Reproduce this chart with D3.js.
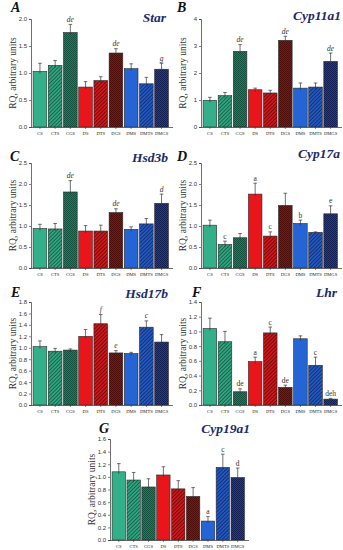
<!DOCTYPE html>
<html>
<head>
<meta charset="utf-8">
<script src="https://cdn.jsdelivr.net/npm/d3@7"></script>
<style>
  body { margin: 0; background: #fff; }
  svg { display: block; }
</style>
</head>
<body>
<div id="chart"></div>
<script>
const GROUPS = ['CS', 'CTS', 'CGS', 'DS', 'DTS', 'DGS', 'DMS', 'DMTS', 'DMGS'];

// A - Star
const STAR_MEAN = [1.03, 1.14, 1.75, 0.74, 0.86, 1.37, 1.08, 0.80, 1.07];
const STAR_ERR  = [0.15, 0.09, 0.15, 0.10, 0.07, 0.08, 0.09, 0.12, 0.11];
const STAR_SIG  = ['', '', 'de', '', '', 'de', '', '', 'g'];
const STAR_TICKS = [0, 0.5, 1.0, 1.5, 2.0];

// B - Cyp11a1
const CYP11_MEAN = [0.99, 1.16, 2.80, 1.38, 1.26, 3.21, 1.44, 1.48, 2.43];
const CYP11_ERR  = [0.11, 0.12, 0.25, 0.06, 0.10, 0.15, 0.19, 0.15, 0.31];
const CYP11_SIG  = ['', '', 'de', '', '', 'de', '', '', 'de'];
const CYP11_TICKS = [0, 1, 2, 3, 4];

// C - Hsd3b
const HSD3_MEAN = [0.94, 0.93, 1.81, 0.88, 0.88, 1.32, 0.92, 1.05, 1.54];
const HSD3_ERR  = [0.10, 0.13, 0.27, 0.13, 0.14, 0.09, 0.06, 0.13, 0.22];
const HSD3_SIG  = ['', '', 'de', '', '', 'de', '', '', 'd'];
const HSD3_TICKS = [0, 0.5, 1.0, 1.5, 2.0, 2.5];

// D - Cyp17a
const CYP17_MEAN = [1.02, 0.56, 0.72, 1.76, 0.76, 1.49, 1.06, 0.85, 1.29];
const CYP17_ERR  = [0.12, 0.08, 0.10, 0.26, 0.10, 0.29, 0.08, 0.01, 0.19];
const CYP17_SIG  = ['', 'c', '', 'a', 'c', '', 'b', '', 'e'];
const CYP17_TICKS = [0, 0.5, 1.0, 1.5, 2.0, 2.5];

// E - Hsd17b
const HSD17_MEAN = [1.02, 0.94, 0.96, 1.20, 1.42, 0.91, 0.90, 1.36, 1.10];
const HSD17_ERR  = [0.10, 0.05, 0.02, 0.12, 0.16, 0.04, 0.02, 0.11, 0.13];
const HSD17_SIG  = ['', '', '', '', 'f', 'e', '', 'c', ''];
const HSD17_TICKS = [0, 0.2, 0.4, 0.6, 0.8, 1.0, 1.2, 1.4, 1.6, 1.8];

// F - Lhr
const LHR_MEAN = [1.04, 0.86, 0.18, 0.59, 0.98, 0.24, 0.90, 0.54, 0.08];
const LHR_ERR  = [0.14, 0.14, 0.04, 0.06, 0.08, 0.03, 0.04, 0.11, 0.01];
const LHR_SIG  = ['', '', 'de', 'a', 'c', 'de', '', 'c', 'deh'];
const LHR_TICKS = [0, 0.2, 0.4, 0.6, 0.8, 1.0, 1.2, 1.4];

// G - Cyp19a1
const CYP19_MEAN = [1.08, 0.95, 0.84, 1.03, 0.81, 0.69, 0.30, 1.15, 0.99];
const CYP19_ERR  = [0.13, 0.12, 0.13, 0.13, 0.13, 0.14, 0.07, 0.21, 0.15];
const CYP19_SIG  = ['', '', '', '', '', '', 'a', 'c', 'd'];
const CYP19_TICKS = [0, 0.2, 0.4, 0.6, 0.8, 1.0, 1.2, 1.4, 1.6];

const GENE_COLOR = '#1b2a6b';
const AXIS_COLOR = '#333';

let svg = d3.select('#chart')
    .append('svg')
    .attr('width', 343)
    .attr('height', 550);

let defs = svg.append('defs');

function stripePattern(id, base, line) {
    let p = defs.append('pattern')
        .attr('id', id)
        .attr('patternUnits', 'userSpaceOnUse')
        .attr('width', 2.6)
        .attr('height', 2.6)
        .attr('patternTransform', 'rotate(45)');
    p.append('rect').attr('width', 2.6).attr('height', 2.6).attr('fill', base);
    p.append('rect').attr('width', 0.9).attr('height', 2.6).attr('fill', line);
}

function checkPattern(id, base, dot) {
    let p = defs.append('pattern')
        .attr('id', id)
        .attr('patternUnits', 'userSpaceOnUse')
        .attr('width', 2)
        .attr('height', 2);
    p.append('rect').attr('width', 2).attr('height', 2).attr('fill', base);
    p.append('rect').attr('width', 1).attr('height', 1).attr('fill', dot);
    p.append('rect').attr('x', 1).attr('y', 1).attr('width', 1).attr('height', 1).attr('fill', dot);
}

stripePattern('stripeG', '#2fa580', '#17604a');
checkPattern('checkG', '#1f7d60', '#10503d');
stripePattern('stripeR', '#d0161b', '#6e0c0c');
checkPattern('checkR', '#7d1a12', '#4e0c08');
stripePattern('stripeB', '#2258c2', '#132f70');
checkPattern('checkB', '#223d8e', '#111f55');

const FILLS = ['#33b08a', 'url(#stripeG)', 'url(#checkG)',
               '#e8161b', 'url(#stripeR)', 'url(#checkR)',
               '#2464d4', 'url(#stripeB)', 'url(#checkB)'];

function drawPanel(o) {
    let g = svg.append('g');

    let x = d3.scaleBand()
        .domain(GROUPS)
        .range([o.left + 1.5, o.right])
        .paddingInner(0.1)
        .paddingOuter(0.04);

    let y = d3.scaleLinear()
        .domain([0, o.ticks[o.ticks.length - 1]])
        .range([o.bottom, o.top]);

    // bars
    g.selectAll('.bar')
        .data(o.mean)
        .enter()
        .append('rect')
        .attr('class', 'bar')
        .attr('x', (d, i) => x(GROUPS[i]))
        .attr('y', d => y(d))
        .attr('width', x.bandwidth())
        .attr('height', d => y(0) - y(d))
        .attr('fill', (d, i) => FILLS[i])
        .attr('stroke', '#2a2a2a')
        .attr('stroke-width', 0.6);

    // error bars (upper only)
    let eb = g.selectAll('.err')
        .data(o.mean)
        .enter()
        .append('g')
        .attr('class', 'err');
    eb.append('line')
        .attr('x1', (d, i) => x(GROUPS[i]) + x.bandwidth() / 2)
        .attr('x2', (d, i) => x(GROUPS[i]) + x.bandwidth() / 2)
        .attr('y1', d => y(d) + 2)
        .attr('y2', (d, i) => y(d + o.err[i]))
        .attr('stroke', '#333')
        .attr('stroke-width', 0.7);
    eb.append('line')
        .attr('x1', (d, i) => x(GROUPS[i]) + x.bandwidth() / 2 - 1.8)
        .attr('x2', (d, i) => x(GROUPS[i]) + x.bandwidth() / 2 + 1.8)
        .attr('y1', (d, i) => y(d + o.err[i]))
        .attr('y2', (d, i) => y(d + o.err[i]))
        .attr('stroke', '#333')
        .attr('stroke-width', 0.7);

    // significance letters
    g.selectAll('.sig')
        .data(o.mean)
        .enter()
        .append('text')
        .attr('class', 'sig')
        .attr('x', (d, i) => x(GROUPS[i]) + x.bandwidth() / 2)
        .attr('y', (d, i) => y(d + o.err[i]) - 2.5)
        .attr('text-anchor', 'middle')
        .style('font-family', '"Liberation Serif", serif')
        .style('font-style', o.italicSig ? 'italic' : 'normal')
        .style('font-size', '7.5px')
        .style('fill', '#333')
        .text((d, i) => o.sig[i]);

    // y axis
    let yAxis = d3.axisLeft(y)
        .tickValues(o.ticks)
        .tickSize(2)
        .tickPadding(2)
        .tickFormat(d3.format(o.fmt));
    let ya = g.append('g')
        .attr('transform', `translate(${o.left},0)`)
        .call(yAxis);
    ya.select('.domain').attr('stroke', AXIS_COLOR).attr('stroke-width', 0.7);
    ya.selectAll('.tick line').attr('stroke', AXIS_COLOR).attr('stroke-width', 0.6);
    ya.selectAll('.tick text')
        .style('font-family', '"Liberation Sans", Arial, sans-serif')
        .style('font-size', '6px')
        .style('fill', '#333');

    // x axis
    let xAxis = d3.axisBottom(x).tickSize(2).tickPadding(3);
    let xa = g.append('g')
        .attr('transform', `translate(0,${o.bottom})`)
        .call(xAxis);
    xa.select('.domain')
        .attr('d', `M${o.left},0.5H${o.right + 4}`)
        .attr('stroke', AXIS_COLOR)
        .attr('stroke-width', 0.7);
    xa.selectAll('.tick line').attr('stroke', AXIS_COLOR).attr('stroke-width', 0.6);
    xa.selectAll('.tick text')
        .style('font-family', '"Liberation Serif", serif')
        .style('font-size', '4.6px')
        .style('fill', '#222');

    // y axis title
    g.append('text')
        .attr('transform', `translate(${o.left - 15},${(o.top + o.bottom) / 2}) rotate(-90)`)
        .attr('text-anchor', 'middle')
        .style('font-family', '"Liberation Serif", serif')
        .style('font-size', '9.5px')
        .style('fill', '#333')
        .text('RQ, arbitrary units');

    // panel letter and gene name
    g.append('text')
        .attr('x', o.letterX)
        .attr('y', o.letterY)
        .style('font-family', '"Liberation Serif", serif')
        .style('font-weight', 'bold')
        .style('font-style', 'italic')
        .style('font-size', '14px')
        .style('fill', '#111')
        .text(o.letter);
    g.append('text')
        .attr('x', o.geneX)
        .attr('y', o.geneY)
        .attr('text-anchor', 'end')
        .style('font-family', '"Liberation Serif", serif')
        .style('font-weight', 'bold')
        .style('font-style', 'italic')
        .style('font-size', '13.5px')
        .style('fill', GENE_COLOR)
        .text(o.gene);
}

drawPanel({ letter: 'A', gene: 'Star', mean: STAR_MEAN, err: STAR_ERR, sig: STAR_SIG, ticks: STAR_TICKS, fmt: '.1f',
    left: 31, right: 169, top: 19, bottom: 127, letterX: 11, letterY: 12, geneX: 166, geneY: 22, italicSig: true });
drawPanel({ letter: 'B', gene: 'Cyp11a1', mean: CYP11_MEAN, err: CYP11_ERR, sig: CYP11_SIG, ticks: CYP11_TICKS, fmt: 'd',
    left: 201, right: 338, top: 19, bottom: 127, letterX: 177, letterY: 12, geneX: 341, geneY: 20, italicSig: true });
drawPanel({ letter: 'C', gene: 'Hsd3b', mean: HSD3_MEAN, err: HSD3_ERR, sig: HSD3_SIG, ticks: HSD3_TICKS, fmt: '.1f',
    left: 31, right: 169, top: 163, bottom: 268, letterX: 10, letterY: 161, geneX: 168, geneY: 162, italicSig: true });
drawPanel({ letter: 'D', gene: 'Cyp17a', mean: CYP17_MEAN, err: CYP17_ERR, sig: CYP17_SIG, ticks: CYP17_TICKS, fmt: '.1f',
    left: 201, right: 338, top: 163, bottom: 268, letterX: 177, letterY: 161, geneX: 340, geneY: 158, italicSig: false });
drawPanel({ letter: 'E', gene: 'Hsd17b', mean: HSD17_MEAN, err: HSD17_ERR, sig: HSD17_SIG, ticks: HSD17_TICKS, fmt: '.1f',
    left: 31, right: 169, top: 302, bottom: 405, letterX: 11, letterY: 297, geneX: 168, geneY: 298, italicSig: true });
drawPanel({ letter: 'F', gene: 'Lhr', mean: LHR_MEAN, err: LHR_ERR, sig: LHR_SIG, ticks: LHR_TICKS, fmt: '.1f',
    left: 201, right: 338, top: 302, bottom: 405, letterX: 192, letterY: 297, geneX: 337, geneY: 297, italicSig: false });
drawPanel({ letter: 'G', gene: 'Cyp19a1', mean: CYP19_MEAN, err: CYP19_ERR, sig: CYP19_SIG, ticks: CYP19_TICKS, fmt: '.1f',
    left: 110, right: 245, top: 439, bottom: 540, letterX: 99, letterY: 433, geneX: 250, geneY: 433, italicSig: false });
</script>
</body>
</html>
